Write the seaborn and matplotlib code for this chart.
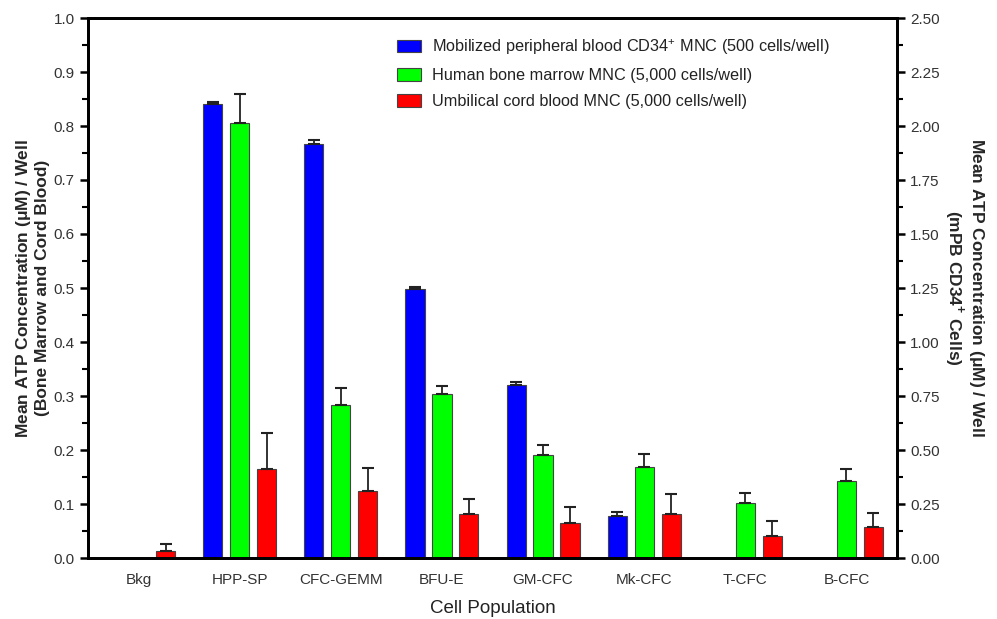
import numpy as np
import pandas as pd
import matplotlib
matplotlib.use("Agg")
import matplotlib.pyplot as plt
from matplotlib.patches import Patch
from matplotlib.container import BarContainer
from matplotlib.ticker import MultipleLocator
import seaborn as sns

categories = ["Bkg", "HPP-SP", "CFC-GEMM", "BFU-E", "GM-CFC", "Mk-CFC", "T-CFC", "B-CFC"]
series_names = ["Mobilized peripheral blood CD34$^{+}$ MNC (500 cells/well)",
                "Human bone marrow MNC (5,000 cells/well)",
                "Umbilical cord blood MNC (5,000 cells/well)"]
# mPB CD34+ values, read on the right-axis scale
mpb_values = [np.nan, 2.10, 1.915, 1.245, 0.80, 0.195, np.nan, np.nan]
mpb_err = [np.nan, 0.010, 0.020, 0.010, 0.013, 0.017, np.nan, np.nan]
# bone marrow & cord blood, read on the left-axis scale
bm_values = [np.nan, 0.805, 0.284, 0.303, 0.190, 0.168, 0.101, 0.142]
bm_err = [np.nan, 0.054, 0.031, 0.015, 0.019, 0.025, 0.0185, 0.0235]
cb_values = [0.0125, 0.164, 0.124, 0.082, 0.065, 0.082, 0.040, 0.058]
cb_err = [0.013, 0.067, 0.042, 0.027, 0.030, 0.036, 0.029, 0.025]

left_max = 1.0
right_max = 2.5
colors = ["#0000ff", "#00ff00", "#ff0000"]

sns.set_style("white")
plt.rcParams["font.family"] = ["Liberation Sans", "DejaVu Sans"]
plt.rcParams["mathtext.fontset"] = "custom"
plt.rcParams["mathtext.rm"] = "Liberation Sans"
plt.rcParams["mathtext.bf"] = "Liberation Sans:bold"

# the mPB series is shown against the right axis: map it onto the left scale
scale = left_max / right_max
df = pd.DataFrame({
    "cat": categories * 3,
    "series": sum([[s] * len(categories) for s in series_names], []),
    "val": list(np.array(mpb_values) * scale) + bm_values + cb_values,
    "err": list(np.array(mpb_err) * scale) + bm_err + cb_err,
}).dropna(subset=["val"])

fig = plt.figure(figsize=(9.97, 6.19), dpi=100)
ax = fig.add_axes([88 / 997, 61 / 619, 809 / 997, 540 / 619])
ax2 = ax.twinx()

palette = dict(zip(series_names, colors))
sns.barplot(data=df, x="cat", y="val", hue="series", order=categories,
            hue_order=series_names, palette=palette, width=0.8, gap=0.29,
            errorbar=None, legend=False, edgecolor="#444444", linewidth=0.8,
            saturation=1, ax=ax)

bars = [b for c in list(ax.containers) if isinstance(c, BarContainer) for b in c]
for bar in bars:
    xc = bar.get_x() + bar.get_width() / 2
    h = bar.get_height()
    if not np.isfinite(h):
        continue
    ci = int(round(xc))
    sub = df[(df["cat"] == categories[ci]) & np.isclose(df["val"], h)]
    if len(sub) == 0:
        continue
    e = sub["err"].iloc[0]
    ax.errorbar(xc, h, yerr=[[0], [e]], fmt="none", ecolor="#222222",
                elinewidth=1.3, capsize=4, capthick=1.5, zorder=5)

ax.set_xlim(-0.5, len(categories) - 0.5)
ax.set_ylim(0, left_max)
ax2.set_ylim(0, right_max)
lt = np.arange(0, left_max + 0.001, 0.1)
rt = np.arange(0, right_max + 0.001, 0.25)
ax.set_yticks(lt)
ax.set_yticklabels([f"{v:.1f}" for v in lt])
ax2.set_yticks(rt)
ax2.set_yticklabels([f"{v:.2f}" for v in rt])
ax.yaxis.set_minor_locator(MultipleLocator(0.05))
ax2.yaxis.set_minor_locator(MultipleLocator(0.125))

for a in (ax, ax2):
    for s in a.spines.values():
        s.set_linewidth(2)
        s.set_color("black")
    a.tick_params(axis="both", which="major", direction="out", length=6, width=1.8,
                  labelsize=11, labelcolor="#333333", color="black")
    a.tick_params(axis="y", which="minor", direction="out", length=4, width=1.5, color="black")
ax.tick_params(axis="x", which="major", length=6, width=2, labelsize=11, pad=5)
ax.tick_params(axis="y", which="both", left=True, right=False)
ax2.tick_params(axis="y", which="both", right=True, left=False)

ax.set_xlabel("Cell Population", fontsize=13.5, color="#222222", labelpad=9)
ax.set_ylabel("Mean ATP Concentration ($\\mathbf{\\mu}$M) / Well\n(Bone Marrow and Cord Blood)",
              fontsize=12.5, fontweight="bold", labelpad=3, linespacing=1.1)
ax2.set_ylabel("Mean ATP Concentration ($\\mathbf{\\mu}$M) / Well\n(mPB CD34$^{\\mathbf{+}}$ Cells)",
               fontsize=12.5, fontweight="bold", rotation=270, va="bottom",
               labelpad=2, linespacing=1.1)

handles = [Patch(facecolor=c, edgecolor="#444444", linewidth=0.8) for c in colors]
ax2.legend(handles, series_names, loc="upper left",
           bbox_to_anchor=((397 - 88) / 809, (558 - 37) / 540),
           frameon=False, fontsize=11.7, handlelength=1.48, handleheight=0.8,
           labelspacing=0.7, handletextpad=0.68, borderpad=0, borderaxespad=0,
           labelcolor="#222222")

fig.savefig("out.png", dpi=100)
